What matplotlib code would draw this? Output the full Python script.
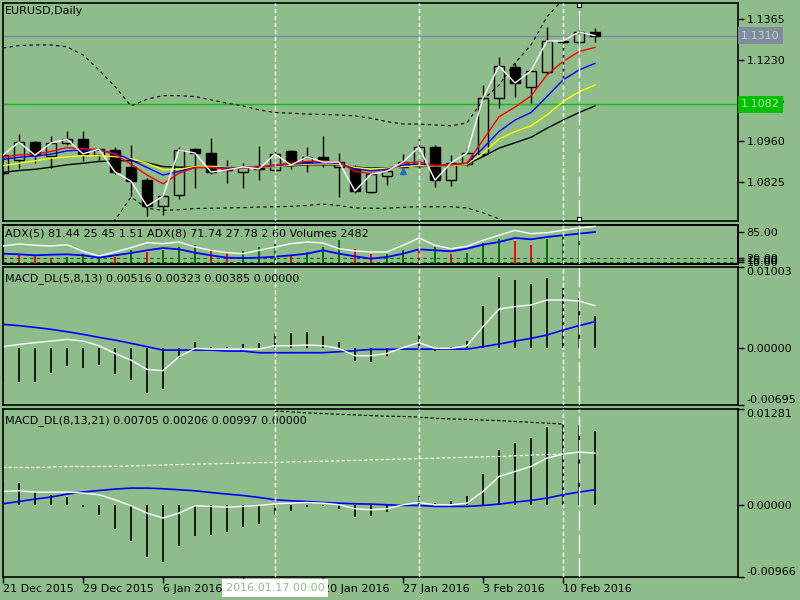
import matplotlib
matplotlib.use('Agg')
import matplotlib.pyplot as plt
import matplotlib.transforms as mtransforms
from matplotlib.patches import Rectangle

BG = '#8fbc8b'

# EURUSD daily bars, 21 Dec 2015 .. 11 Feb 2016
date_ticks = [0, 5, 10, 15, 20, 25, 30, 35]
date_labels = ['21 Dec 2015', '29 Dec 2015', '6 Jan 2016', '13 Jan 2016',
               '20 Jan 2016', '27 Jan 2016', '3 Feb 2016', '10 Feb 2016']
cursor_bar = 17
cursor_label = '2016.01.17 00:00'

opens = [1.0855, 1.0898, 1.0957, 1.0911, 1.0954, 1.0967, 1.0914, 1.0931, 1.0875, 1.0831,
         1.0745, 1.0782, 1.0934, 1.0921, 1.0871, 1.0858, 1.0878, 1.0865, 1.0928, 1.0891,
         1.0908, 1.0875, 1.0875, 1.0792, 1.0845, 1.0875, 1.0878, 1.0941, 1.0831, 1.0885,
         1.0918, 1.1103, 1.1206, 1.1140, 1.1189, 1.1289, 1.1289, 1.1322]
highs = [1.0921, 1.0984, 1.0961, 1.0977, 1.0994, 1.0994, 1.0938, 1.0941, 1.0948, 1.0838,
         1.0785, 1.0941, 1.0938, 1.0971, 1.0898, 1.0888, 1.0944, 1.0931, 1.0931, 1.0941,
         1.0977, 1.0921, 1.0881, 1.0858, 1.0871, 1.0918, 1.0967, 1.0948, 1.0914, 1.0938,
         1.1146, 1.1239, 1.1219, 1.1196, 1.1338, 1.1302, 1.1378, 1.1335]
lows = [1.0848, 1.0871, 1.0888, 1.0871, 1.0948, 1.0894, 1.0898, 1.0851, 1.0778, 1.0712,
        1.0716, 1.0769, 1.0805, 1.0851, 1.0821, 1.0805, 1.0831, 1.0858, 1.0868, 1.0858,
        1.0875, 1.0775, 1.0788, 1.0788, 1.0815, 1.0861, 1.0871, 1.0808, 1.0812, 1.0878,
        1.0911, 1.1070, 1.1107, 1.1087, 1.1183, 1.1153, 1.1276, 1.1289]
closes = [1.0914, 1.0957, 1.0914, 1.0954, 1.0967, 1.0918, 1.0934, 1.0858, 1.0828, 1.0745,
          1.0778, 1.0931, 1.0921, 1.0858, 1.0865, 1.0875, 1.0868, 1.0918, 1.0881, 1.0908,
          1.0891, 1.0891, 1.0795, 1.0851, 1.0861, 1.0891, 1.0941, 1.0831, 1.0888, 1.0921,
          1.1103, 1.1209, 1.1153, 1.1193, 1.1292, 1.1292, 1.1322, 1.1310]

ma_red = [1.0907, 1.0915, 1.0917, 1.0926, 1.0939, 1.0935, 1.0932, 1.0917, 1.0884, 1.0848,
          1.0819, 1.0854, 1.0873, 1.0873, 1.0867, 1.0873, 1.0874, 1.0882, 1.0887, 1.0893,
          1.0895, 1.0891, 1.0860, 1.0853, 1.0862, 1.0887, 1.0892, 1.0879, 1.0882, 1.0887,
          1.0964, 1.1041, 1.1073, 1.1110, 1.1180, 1.1224, 1.1257, 1.1271]
ma_blue = [1.0900, 1.0907, 1.0911, 1.0917, 1.0928, 1.0931, 1.0930, 1.0920, 1.0898, 1.0873,
           1.0848, 1.0860, 1.0873, 1.0873, 1.0871, 1.0873, 1.0874, 1.0879, 1.0884, 1.0887,
           1.0889, 1.0887, 1.0868, 1.0862, 1.0867, 1.0881, 1.0885, 1.0879, 1.0882, 1.0887,
           1.0937, 1.0992, 1.1030, 1.1055, 1.1108, 1.1163, 1.1196, 1.1218]
ma_yellow = [1.0879, 1.0887, 1.0895, 1.0904, 1.0908, 1.0912, 1.0912, 1.0909, 1.0902, 1.0887,
             1.0865, 1.0867, 1.0876, 1.0877, 1.0874, 1.0874, 1.0874, 1.0876, 1.0881, 1.0884,
             1.0885, 1.0884, 1.0873, 1.0868, 1.0871, 1.0876, 1.0879, 1.0878, 1.0879, 1.0884,
             1.0920, 1.0967, 1.0992, 1.1011, 1.1047, 1.1091, 1.1124, 1.1146]
ma_black = [1.0857, 1.0863, 1.0867, 1.0874, 1.0882, 1.0887, 1.0893, 1.0895, 1.0896, 1.0889,
            1.0876, 1.0874, 1.0874, 1.0875, 1.0874, 1.0874, 1.0874, 1.0876, 1.0879, 1.0882,
            1.0882, 1.0882, 1.0874, 1.0871, 1.0872, 1.0876, 1.0878, 1.0876, 1.0879, 1.0884,
            1.0909, 1.0937, 1.0955, 1.0973, 1.1003, 1.1030, 1.1055, 1.1077]
band_up = [1.1269, 1.1277, 1.1279, 1.1279, 1.1273, 1.1246, 1.1196, 1.1141, 1.1077, 1.1099,
           1.1111, 1.1111, 1.1108, 1.1097, 1.1086, 1.1077, 1.1064, 1.1055, 1.1053, 1.1050,
           1.1049, 1.1047, 1.1044, 1.1036, 1.1025, 1.1017, 1.1017, 1.1014, 1.1011, 1.1021,
           1.1097, 1.1146, 1.1219, 1.1279, 1.1372, 1.1430, 1.1448, 1.1458]
band_dn = [1.0640, 1.0632, 1.0628, 1.0630, 1.0638, 1.0652, 1.0672, 1.0699, 1.0775, 1.0738,
           1.0731, 1.0733, 1.0737, 1.0738, 1.0739, 1.0740, 1.0742, 1.0743, 1.0744, 1.0747,
           1.0752, 1.0747, 1.0739, 1.0738, 1.0738, 1.0741, 1.0743, 1.0743, 1.0743, 1.0739,
           1.0723, 1.0703, 1.0680, 1.0655, 1.0625, 1.0600, 1.0580, 1.0565]
bid = 1.1310
level = 1.1082
arrow_bar, arrow_price = 25, 1.0861
price_ticks = [1.1365, 1.1230, 1.1095, 1.0960, 1.0825]

adx_white = [50, 55, 51.7, 50, 53.3, 36.7, 25, 35, 45.8, 58.3, 55.8, 60, 47.5, 39.2, 33.3,
             30.8, 39.2, 47.5, 55.8, 60, 57.5, 43.3, 37.5, 35, 35, 51.7, 70, 51.7, 43.3,
             49.2, 64.2, 76.7, 89.2, 80.8, 83.3, 89.2, 95, 99.2]
adx_blue = [30.8, 29.2, 26.7, 28.3, 29.2, 26.7, 20.8, 26.7, 32.5, 39.2, 45, 41.7, 33.3,
            26.7, 20.8, 20, 20.8, 23.3, 26.7, 30.8, 39.2, 30.8, 24.2, 18.3, 22.5, 30.8,
            41.7, 39.2, 36.7, 43.3, 53.3, 60, 70, 66.7, 72.5, 76.7, 80.8, 85]
adx_levels = [20, 10]
volumes = [11000, 9750, 8280, 4600, 6720, 9750, 7360, 6720, 12880, 11320, 12880, 15920,
           18030, 12880, 11320, 11960, 15920, 18950, 8280, 11320, 15920, 22080, 14350,
           9750, 9750, 12880, 13800, 15920, 9750, 10670, 19870, 23550, 21160, 17480,
           23550, 28150, 34320, 2482]
vol_up = [1, 0, 0, 0, 1, 1, 1, 0, 1, 0, 1, 1, 1, 0, 0, 1, 1, 1, 0, 1, 1, 1, 0, 0, 1, 1,
          0, 1, 0, 1, 1, 1, 0, 0, 1, 1, 1, 0]

macd1_hist = [-0.00400, -0.00410, -0.00410, -0.00308, -0.00213, -0.00246, -0.00205,
              -0.00316, -0.00390, -0.00545, -0.00501, -0.00114, 0.00074, 0.00021, 0.00012,
              0.00049, 0.00062, 0.00185, 0.00185, 0.00205, 0.00156, 0.00074, -0.00156,
              -0.00172, -0.00095, 0.00009, 0.00164, -0.00028, 0.00012, 0.00090, 0.00520,
              0.00873, 0.00836, 0.00791, 0.00861, 0.00738, 0.00615, 0.00397]
macd1_white = [0.00021, 0.00049, 0.00070, 0.00090, 0.00111, 0.00090, 0.00033, -0.00062,
               -0.00144, -0.00258, -0.00274, -0.00102, 0.0, -0.00009, -0.00009, -0.00009,
               -0.00009, 0.00033, 0.00033, 0.00041, 0.00033, 0.0, -0.00090, -0.00090,
               -0.00062, 0.00009, 0.00070, 0.0, 0.0, 0.00033, 0.00267, 0.00483, 0.00513,
               0.00533, 0.00594, 0.00594, 0.00582, 0.00525]
macd1_blue = [0.00295, 0.00279, 0.00258, 0.00234, 0.00205, 0.00172, 0.00135, 0.00102,
              0.00062, 0.00021, -0.00021, -0.00021, -0.00021, -0.00021, -0.00033, -0.00033,
              -0.00053, -0.00053, -0.00053, -0.00053, -0.00053, -0.00041, -0.00028,
              -0.00012, -0.00012, -0.00009, -0.00009, -0.00009, -0.00009, -0.00009,
              0.00021, 0.00053, 0.00090, 0.00123, 0.00164, 0.00225, 0.00279, 0.00328]

macd2_hist = [0.00300, 0.00290, 0.00170, 0.00134, 0.00098, -0.00031, -0.00134, -0.00321,
              -0.00490, -0.00704, -0.00771, -0.00557, -0.00424, -0.00401, -0.00370,
              -0.00303, -0.00254, -0.00134, -0.00089, -0.00036, -0.00022, -0.00053,
              -0.00169, -0.00156, -0.00102, 0.00005, 0.00111, 0.00022, 0.00053, 0.00120,
              0.00414, 0.00735, 0.00825, 0.00891, 0.01038, 0.01078, 0.01070, 0.00989]
macd2_white = [0.00178, 0.00187, 0.00170, 0.00170, 0.00170, 0.00156, 0.00134, 0.00067,
               -0.00013, -0.00111, -0.00178, -0.00111, -0.00013, -0.00022, -0.00031,
               -0.00022, -0.00009, 0.00013, 0.00022, 0.00031, 0.00022, 0.0, -0.00053,
               -0.00067, -0.00053, 0.0, 0.00031, 0.0, 0.0, 0.00022, 0.00178, 0.00378,
               0.00445, 0.00512, 0.00624, 0.00678, 0.00705, 0.00691]
macd2_blue = [0.00013, 0.00044, 0.00076, 0.00103, 0.00143, 0.00170, 0.00191, 0.00210,
              0.00223, 0.00223, 0.00214, 0.00201, 0.00187, 0.00164, 0.00143, 0.00124,
              0.00098, 0.00067, 0.00053, 0.00044, 0.00031, 0.00022, 0.00013, 0.00009, 0.0,
              -0.00009, -0.00009, -0.00022, -0.00022, -0.00022, -0.00009, 0.00009, 0.00036,
              0.00058, 0.00089, 0.00134, 0.00170, 0.00201]
macd2_wdash = [0.00499, 0.00499, 0.00499, 0.00505, 0.00512, 0.00512, 0.00512, 0.00515,
               0.00520, 0.00526, 0.00532, 0.00538, 0.00543, 0.00548, 0.00553, 0.00558,
               0.00563, 0.00568, 0.00573, 0.00578, 0.00583, 0.00588, 0.00594, 0.00600,
               0.00606, 0.00612, 0.00618, 0.00624, 0.00630, 0.00636, 0.00641, 0.00646,
               0.00655, 0.00664, 0.00672, 0.00678]
kdash_start = 17
macd2_kdash = [0.01253, 0.01243, 0.01230, 0.01220, 0.01210, 0.01203, 0.01192, 0.01185,
               0.01181, 0.01173, 0.01157, 0.01148, 0.01143, 0.01133, 0.01126, 0.01114,
               0.01103, 0.01092, 0.01079]

short_vlines = [17, 26, 35]
object_vline = 36

n = len(closes)
bars = list(range(n))

plt.rcParams['font.family'] = ['DejaVu Sans']
FS = 8

fig = plt.figure(figsize=(8, 6), dpi=100, facecolor=BG)


def panel(y0, y1, face=BG):
    # pixel box -> figure fraction
    ax = fig.add_axes([3 / 800, 1 - y1 / 600, 735 / 800, (y1 - y0) / 600])
    ax.set_facecolor(face)
    for s in ax.spines.values():
        s.set_color('black')
        s.set_linewidth(1.2)
    ax.set_xlim(0, 45.94)
    ax.yaxis.tick_right()
    ax.tick_params(axis='y', direction='out', length=4, width=1, pad=2,
                   labelsize=FS, colors='black')
    ax.tick_params(axis='x', bottom=False, labelbottom=False)
    return ax


ax1 = panel(3, 221)
axv = panel(224.7, 264.3)          # volumes, drawn underneath the ADX lines
ax2 = panel(224.7, 264.3, face='none')
ax3 = panel(266.7, 405)
ax4 = panel(409, 577)

# ---- main price panel
ax1.set_ylim(1.06957, 1.14180)
ax1.plot(bars, band_up, color='black', lw=0.8, ls=(0, (3, 3)), zorder=3)
ax1.plot(bars, band_dn, color='black', lw=0.8, ls=(0, (3, 3)), zorder=3)
ax1.axhline(bid, color='#7f8aa8', lw=1, zorder=1)
ax1.axhline(level, color='#00c000', lw=1, zorder=1)

for i in bars:
    o, h, l, c = opens[i], highs[i], lows[i], closes[i]
    ax1.vlines(i, l, h, color='black', lw=1, zorder=2)
    bottom = min(o, c)
    height = max(abs(c - o), 0.00003)
    fc = 'black' if c < o else BG
    ax1.add_patch(Rectangle((i - 0.31, bottom), 0.62, height, facecolor=fc,
                            edgecolor='black', lw=1, zorder=2.5))

ax1.plot(bars, ma_black, color='black', lw=1, zorder=4)
ax1.plot(bars, ma_yellow, color='yellow', lw=1, zorder=4)
ax1.plot(bars, ma_blue, color='#0000ff', lw=1, zorder=4)
ax1.plot(bars, ma_red, color='red', lw=1, zorder=4)
ax1.plot(bars, closes, color='white', lw=1, zorder=5)
ax1.plot([arrow_bar], [arrow_price], marker='^', color='#1e6ec8', ms=5, zorder=6)

ax1.set_yticks(price_ticks)
ax1.set_yticklabels(['%.4f' % v for v in price_ticks])
ax1.text(0.003, 0.985, 'EURUSD,Daily', transform=ax1.transAxes, ha='left', va='top',
         fontsize=FS)

tr = mtransforms.blended_transform_factory(ax1.transAxes, ax1.transData)
ax1.text(1.004, bid, '%.4f' % bid, transform=tr, ha='left', va='center', fontsize=FS,
         color='#c4cccc', zorder=10, clip_on=False,
         bbox=dict(boxstyle='square,pad=0.3', fc='#7f8c9c', ec='none'))
ax1.text(1.004, level, '%.4f' % level, transform=tr, ha='left', va='center', fontsize=FS,
         color='#b0f0b0', zorder=10, clip_on=False,
         bbox=dict(boxstyle='square,pad=0.3', fc='#00c000', ec='none'))

# ---- ADX + volumes panel
axv.set_ylim(0, 36430)
axv.set_yticks([])
for i in bars:
    axv.vlines(i, 0, volumes[i], color='#006e00' if vol_up[i] else '#ff0000', lw=1.4)

ax2.set_ylim(4.25, 103.25)
for lv in adx_levels:
    ax2.axhline(lv, color='#006400', lw=0.8, ls=(0, (3, 3)))
ax2.plot(bars, adx_white, color='white', lw=1, zorder=4)
ax2.plot(bars, adx_blue, color='#0000ff', lw=1.3, zorder=4)
ax2.set_yticks([85, 20, 15, 10])
ax2.set_yticklabels(['85.00', '20.00', '15.00', '10.00'])
ax2.text(0.003, 0.78, 'ADX(5) 81.44 25.45 1.51 ADX(8) 71.74 27.78 2.60 Volumes 2482',
         transform=ax2.transAxes, ha='left', va='center', fontsize=FS, zorder=6)

# ---- MACD_DL(5,8,13)
ax3.set_ylim(-0.00695, 0.01003)
ax3.vlines(bars, 0, macd1_hist, color='black', lw=1.2)
ax3.plot(bars, macd1_blue, color='#0000ff', lw=1.2)
ax3.plot(bars, macd1_white, color='white', lw=1)
ax3.set_yticks([0.01003, 0.0, -0.00695])
ax3.set_yticklabels(['0.01003', '0.00000', '-0.00695'])
ax3.text(0.003, 0.955, 'MACD_DL(5,8,13) 0.00516 0.00323 0.00385 0.00000',
         transform=ax3.transAxes, ha='left', va='top', fontsize=FS)

# ---- MACD_DL(8,13,21)
ax4.set_ylim(-0.00966, 0.01281)
ax4.vlines(bars, 0, macd2_hist, color='black', lw=1.2)
ax4.plot(bars[:len(macd2_wdash)], macd2_wdash, color='white', lw=0.8, ls=(0, (3, 2)))
ax4.plot(bars[kdash_start:kdash_start + len(macd2_kdash)], macd2_kdash, color='black',
         lw=0.8, ls=(0, (3, 2)))
ax4.plot(bars, macd2_blue, color='#0000ff', lw=1.2)
ax4.plot(bars, macd2_white, color='white', lw=1)
ax4.set_yticks([0.01281, 0.0, -0.00966])
ax4.set_yticklabels(['0.01281', '0.00000', '-0.00966'])
ax4.text(0.003, 0.965, 'MACD_DL(8,13,21) 0.00705 0.00206 0.00997 0.00000',
         transform=ax4.transAxes, ha='left', va='top', fontsize=FS)

for ax in (ax3, ax4):
    labs = ax.get_yticklabels()
    labs[0].set_va('top')
    labs[-1].set_va('bottom')

ax4.set_xticks(date_ticks)
ax4.set_xticklabels(date_labels, ha='left')
ax4.tick_params(axis='x', bottom=True, labelbottom=True, direction='out', length=4,
                width=1, pad=1, labelsize=FS)

# cursor date box
ax4.text(cursor_bar, -0.066, cursor_label, transform=ax4.get_xaxis_transform(),
         ha='center', va='center', fontsize=FS, color=BG, zorder=20, clip_on=False,
         bbox=dict(boxstyle='square,pad=0.35', fc='white', ec='none'))

# vertical lines across panels
for ax in (ax1, ax2, ax3, ax4):
    for b in short_vlines:
        ax.axvline(b, color='white', lw=1, ls=(0, (3, 2)), zorder=8)
    if ax is ax1:
        ax.axvline(object_vline, ymin=0.01, ymax=0.99, color='white', lw=1,
                   ls=(0, (14, 3)), zorder=8)
        tv = mtransforms.blended_transform_factory(ax.transData, ax.transAxes)
        ax.plot([object_vline, object_vline], [0.01, 0.99], transform=tv, ls='none',
                marker='s', ms=3.5, mfc='white', mec='black', mew=0.8, zorder=9,
                clip_on=False)
    else:
        ax.axvline(object_vline, color='white', lw=1, ls=(0, (14, 3)), zorder=8)

fig.savefig('out.png', dpi=100, facecolor=BG)
